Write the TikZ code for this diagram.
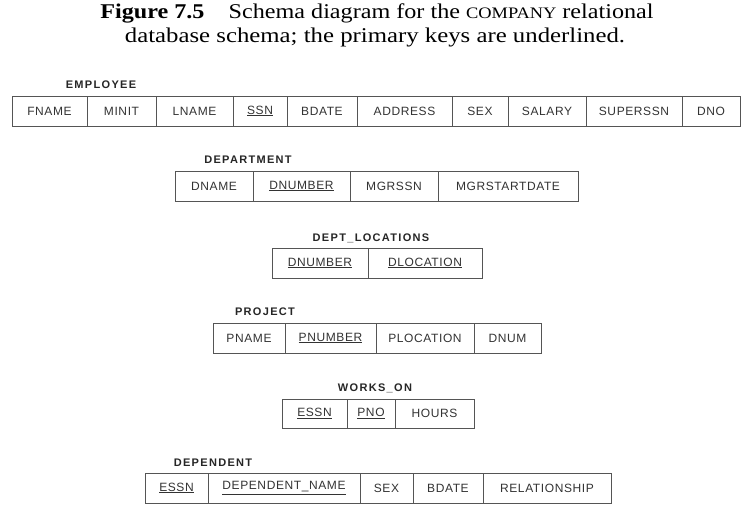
\documentclass[tikz,border=0pt]{standalone}
\usepackage{fontspec}
\setmainfont{Liberation Serif}
\newfontfamily\cellfont[LetterSpace=5]{Liberation Sans}
\newfontfamily\labfont[LetterSpace=12]{Liberation Sans}
\definecolor{linec}{HTML}{555555}
\definecolor{textc}{HTML}{333333}
\tikzset{
  cell/.style={draw=linec, line width=0.8pt, inner sep=0pt, text=textc,
    font=\cellfont\fontsize{12}{14}\selectfont},
  tablabel/.style={inner sep=0pt, text=black!85, font=\labfont\bfseries\fontsize{11}{13}\selectfont},
  titletext/.style={inner sep=0pt, anchor=base, font=\fontsize{21}{24}\selectfont}
}
% name, x1, x2, ytop, ybot, text
\newcommand\cellat[6]{%
  \node[cell, minimum width={(#3-#2)*1pt}, minimum height={(#5-#4)*1pt}] (#1) at ({(#2+#3)/2},{(#4+#5)/2}) {#6};}
\begin{document}
\begin{tikzpicture}[x=1pt,y=-1pt]
\useasboundingbox (0,0) rectangle (753,509);
\fill[white] (0,0) rectangle (753,509);
% title
\node[titletext, xscale=1.15] (t1) at (377,18) {\textbf{Figure 7.5}\quad Schema diagram for the {\fontsize{16}{16}\selectfont COMPANY} relational};
\node[titletext, xscale=1.18] (t2) at (375,42) {database schema; the primary keys are underlined.};
% EMPLOYEE
\node[tablabel] (lemp) at (101,85) {EMPLOYEE};
\cellat{e1}{12}{87}{96}{126}{FNAME}
\cellat{e2}{87}{156}{96}{126}{MINIT}
\cellat{e3}{156}{233}{96}{126}{LNAME}
\cellat{e4}{233}{287}{96}{126}{\underline{SSN}}
\cellat{e5}{287}{357}{96}{126}{BDATE}
\cellat{e6}{357}{452}{96}{126}{ADDRESS}
\cellat{e7}{452}{508}{96}{126}{SEX}
\cellat{e8}{508}{586}{96}{126}{SALARY}
\cellat{e9}{586}{682}{96}{126}{SUPERSSN}
\cellat{e10}{682}{740}{96}{126}{DNO}
% DEPARTMENT
\node[tablabel] (ldep) at (248,160) {DEPARTMENT};
\cellat{d1}{175}{253}{171}{201}{DNAME}
\cellat{d2}{253}{350}{171}{201}{\underline{DNUMBER}}
\cellat{d3}{350}{438}{171}{201}{MGRSSN}
\cellat{d4}{438}{578}{171}{201}{MGRSTARTDATE}
% DEPT_LOCATIONS
\node[tablabel] (lloc) at (371,238) {DEPT\_LOCATIONS};
\cellat{l1}{272}{368}{248}{278}{\underline{DNUMBER}}
\cellat{l2}{368}{482}{248}{278}{\underline{DLOCATION}}
% PROJECT
\node[tablabel] (lproj) at (265,312) {PROJECT};
\cellat{p1}{213}{285}{323}{353}{PNAME}
\cellat{p2}{285}{376}{323}{353}{\underline{PNUMBER}}
\cellat{p3}{376}{474}{323}{353}{PLOCATION}
\cellat{p4}{474}{541}{323}{353}{DNUM}
% WORKS_ON
\node[tablabel] (lwo) at (375,388) {WORKS\_ON};
\cellat{w1}{282}{347}{399}{428}{\underline{ESSN}}
\cellat{w2}{347}{395}{399}{428}{\underline{PNO}}
\cellat{w3}{395}{474}{399}{428}{HOURS}
% DEPENDENT
\node[tablabel] (ldpd) at (213,463) {DEPENDENT};
\cellat{n1}{145}{208}{473}{503}{\underline{ESSN}}
\cellat{n2}{208}{360}{473}{503}{\underline{DEPENDENT\_NAME}}
\cellat{n3}{360}{413}{473}{503}{SEX}
\cellat{n4}{413}{483}{473}{503}{BDATE}
\cellat{n5}{483}{611}{473}{503}{RELATIONSHIP}
\end{tikzpicture}
\end{document}
